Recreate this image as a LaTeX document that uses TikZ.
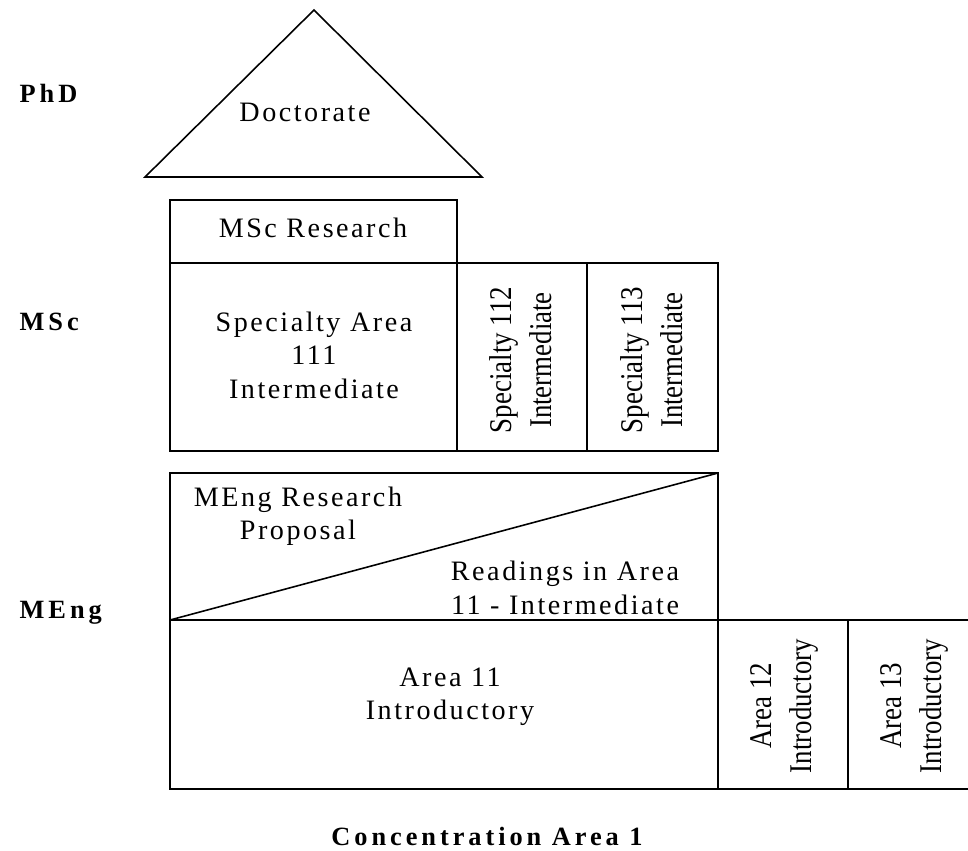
\documentclass[tikz,border=0pt]{standalone}
\usepackage{fontspec}
\setmainfont{Liberation Serif}
\usepackage{tikz}
\usetikzlibrary{positioning}

\tikzset{
  txt/.style={font=\fontsize{16}{19}\selectfont\addfontfeature{LetterSpace=9}, align=center},
  vtxt/.style={font=\fontsize{18}{22.8}\selectfont, align=center, rotate=90, xscale=0.85},
  lvl/.style={font=\fontsize{15}{18}\selectfont\bfseries\addfontfeature{LetterSpace=15}, anchor=base west}
}

\begin{document}
\begin{tikzpicture}[x=0.02cm, y=-0.02cm, line width=0.9pt]
\useasboundingbox (0, 0) rectangle (968, 850);
\clip (0, 0) rectangle (968, 850);

\node (phd) at (13, 102) [lvl] {PhD};
\node (msc) at (13, 330) [lvl] {MSc};
\node (meng) at (13, 618) [lvl] {MEng};

% PhD
\draw (145, 177) -- (314, 10) -- (482, 177) -- cycle;
\node (doctorate) at (305, 112) [txt] {Doctorate};

% MSc
\draw (170, 200) rectangle (457, 263);
\draw (170, 263) rectangle (457, 451);
\draw (457, 263) rectangle (587, 451);
\draw (587, 263) rectangle (718, 451);
\node (mscres) at (313, 228) [txt] {MSc Research};
\node (spec111) at (314, 355) [txt] {Specialty Area\\111\\Intermediate};
\node (spec112) at (521, 360) [vtxt] {Specialty 112\\Intermediate};
\node (spec113) at (652, 360) [vtxt] {Specialty 113\\Intermediate};

% MEng
\draw (170, 473) rectangle (718, 620);
\draw (170, 620) -- (718, 473);
\node (mengres) at (298, 516) [txt] {MEng Research\\Proposal};
\node (readings) at (565, 588) [txt] {Readings in Area\\11 - Intermediate};
\draw (170, 620) rectangle (718, 789);
\draw (718, 620) rectangle (848, 789);
\draw (848, 620) rectangle (980, 789);
\node (area11) at (450, 697) [txt] {Area 11\\Introductory};
\node (area12) at (784, 706) [vtxt] {Area 12\\Introductory};
\node (area13) at (914, 706) [vtxt] {Area 13\\Introductory};

\node (conc) at (487, 845) [lvl, anchor=base] {Concentration Area 1};

\end{tikzpicture}
\end{document}
